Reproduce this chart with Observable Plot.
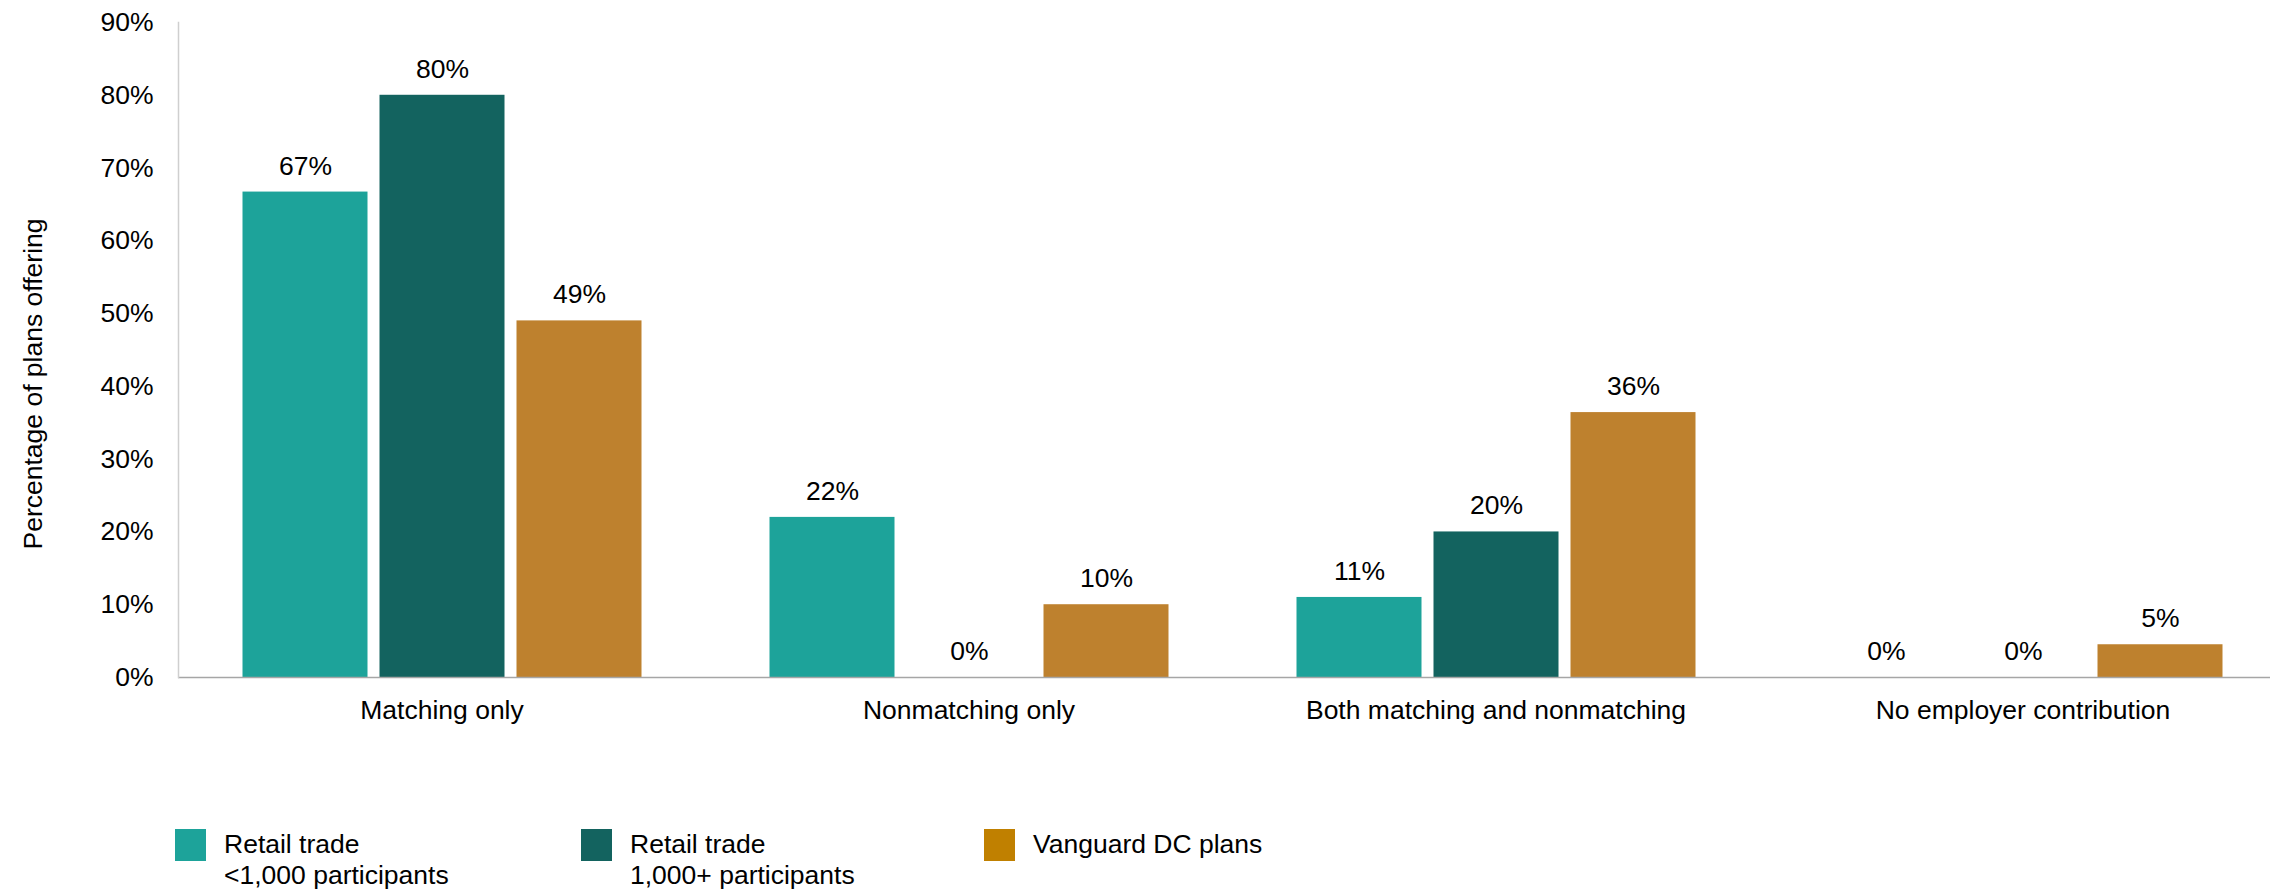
<!DOCTYPE html>
<html>
<head>
<meta charset="utf-8">
<script src="https://cdn.jsdelivr.net/npm/d3@7"></script>
<script src="https://cdn.jsdelivr.net/npm/@observablehq/plot@0.6"></script>
<style>
  html, body { margin: 0; padding: 0; background: #fff; overflow: hidden; }
  body { font-family: "Liberation Sans", Arial, sans-serif; color: #000; }
  #wrap { position: relative; width: 2270px; height: 892px; }
  #legend { position: absolute; left: 0; top: 829px; width: 2270px; height: 63px; }
  .item { position: absolute; top: 0; display: flex; align-items: flex-start; }
  .sw { width: 31px; height: 32px; flex: none; }
  .lab { font-size: 26.5px; line-height: 31px; margin-left: 18px; white-space: nowrap; }
</style>
</head>
<body>
<div id="wrap">
  <div id="chart"></div>
  <div id="legend"></div>
</div>
<script>
const categories = ["Matching only", "Nonmatching only", "Both matching and nonmatching", "No employer contribution"];
const seriesNames = ["Retail trade <1,000 participants", "Retail trade 1,000+ participants", "Vanguard DC plans"];
const smallRetail = [66.7, 22, 11, 0];
const largeRetail = [80, 0, 20, 0];
const vanguardDC = [49, 10, 36.4, 4.5];
const barColors = ["#1da39a", "#13635f", "#be812e"];
const legendColors = ["#1da39a", "#13635f", "#c08000"];
const legendLines = [["Retail trade", "<1,000 participants"], ["Retail trade", "1,000+ participants"], ["Vanguard DC plans"]];
const legendLeft = [175, 581, 984];
const yTicks = [0, 10, 20, 30, 40, 50, 60, 70, 80, 90];
const yLabel = "Percentage of plans offering";

const seriesValues = [smallRetail, largeRetail, vanguardDC];
const data = [];
categories.forEach((c, i) => {
  seriesNames.forEach((s, j) => {
    data.push({category: c, series: s, value: seriesValues[j][i]});
  });
});

const chart = Plot.plot({
  width: 2270,
  height: 800,
  marginTop: 22,
  marginBottom: 123,
  marginLeft: 177.5,
  marginRight: 30,
  style: {fontSize: "26.5px", fontFamily: "'Liberation Sans', Arial, sans-serif", color: "#000", background: "#fff"},
  fx: {domain: categories, range: [177.5, 2287], padding: 0, label: null, axis: "bottom", tickSize: 0, tickPadding: 23},
  x: {domain: seriesNames, paddingInner: 0.0909, paddingOuter: 0.463, axis: null},
  y: {domain: [0, 90], ticks: yTicks, tickFormat: d => d + "%", tickSize: 0, tickPadding: 25, label: null},
  color: {domain: seriesNames, range: barColors},
  marks: [
    Plot.barY(data, {fx: "category", x: "series", y: "value", fill: "series"}),
    Plot.ruleY([0], {stroke: "#a6a6a6", strokeWidth: 1.5}),
    Plot.frame({anchor: "left", stroke: "#cfcfcf", strokeWidth: 1.5, facetAnchor: "left"}),
    Plot.text(data, {fx: "category", x: "series", y: "value", text: d => Math.round(d.value) + "%", dy: -26, fontSize: 26.5, fill: "#000"}),
    Plot.text([yLabel], {text: d => d, frameAnchor: "left", textAnchor: "middle", rotate: -90, dx: -145, dy: 34, fontSize: 26.5, fill: "#000", facetAnchor: "left"})
  ]
});
document.getElementById("chart").appendChild(chart);

const legend = document.getElementById("legend");
seriesNames.forEach((s, j) => {
  const item = document.createElement("div");
  item.className = "item";
  item.style.left = legendLeft[j] + "px";
  const sw = document.createElement("div");
  sw.className = "sw";
  sw.style.background = legendColors[j];
  const lab = document.createElement("div");
  lab.className = "lab";
  lab.innerHTML = legendLines[j].map(t => t.replace(/</g, "&lt;")).join("<br>");
  item.appendChild(sw);
  item.appendChild(lab);
  legend.appendChild(item);
});
</script>
</body>
</html>
